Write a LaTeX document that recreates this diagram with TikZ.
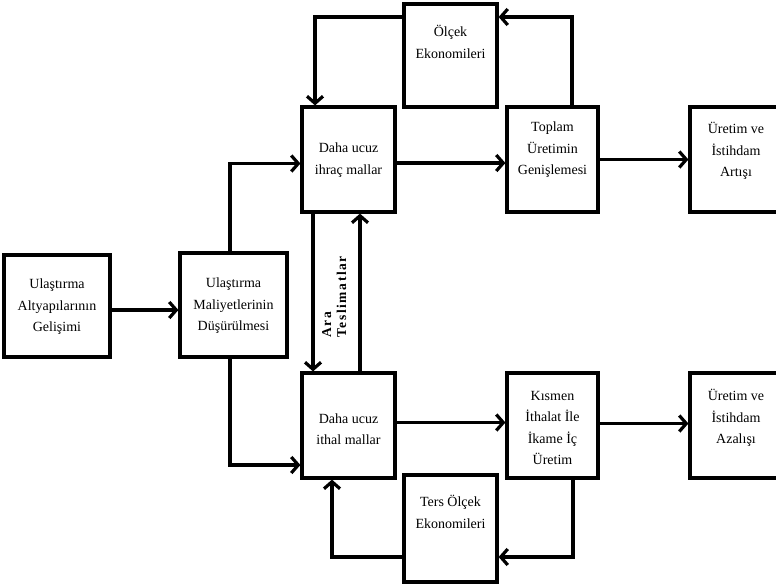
\documentclass[tikz,border=0pt]{standalone}
\usepackage{fontspec}
\setmainfont{Liberation Serif}
\usetikzlibrary{arrows.meta}
\begin{document}
\begin{tikzpicture}[x=1pt,y=-1pt,
  box/.style={draw,line width=3.2pt,inner sep=0pt},
  txt/.style={align=center,font=\fontsize{14}{21.5}\selectfont,inner sep=0pt},
  arr/.style={line width=3.2pt,-{Straight Barb[length=7pt,width=16pt]}},
  lbl/.style={rotate=90,anchor=north west,align=left,inner sep=0pt,font=\bfseries\fontsize{13.5}{15}\selectfont\addfontfeatures{LetterSpace=12}}]
\useasboundingbox (0,0) rectangle (776,587);
% boxes
\node[box,minimum width=106pt,minimum height=102pt] (A) at (57,306) {};
\node[box,minimum width=107pt,minimum height=104pt] (B) at (233.5,305) {};
\node[box,minimum width=93pt,minimum height=105pt] (C) at (348.5,159.5) {};
\node[box,minimum width=93pt,minimum height=103pt] (O) at (450.5,55.5) {};
\node[box,minimum width=91pt,minimum height=105pt] (T) at (552.5,159.5) {};
\node[box,minimum width=92pt,minimum height=105pt] (R1) at (736,159.5) {};
\node[box,minimum width=93pt,minimum height=105pt] (D) at (348.5,425.5) {};
\node[box,minimum width=91pt,minimum height=105pt] (K) at (552.5,425.5) {};
\node[box,minimum width=92pt,minimum height=105pt] (R2) at (736,425.5) {};
\node[box,minimum width=93pt,minimum height=107pt] (Te) at (450.5,528.5) {};
% texts
\node[txt] (tA) at (57,307) {Ulaştırma\\Altyapılarının\\Gelişimi};
\node[txt] (tB) at (233.5,306) {Ulaştırma\\Maliyetlerinin\\Düşürülmesi};
\node[txt] (tC) at (348.5,160) {Daha ucuz\\ihraç mallar};
\node[txt] (tO) at (450.5,42) {Ölçek\\Ekonomileri};
\node[txt] (tT) at (552.5,150) {Toplam\\Üretimin\\Genişlemesi};
\node[txt] (tR1) at (736,151) {Üretim ve\\İstihdam\\Artışı};
\node[txt] (tD) at (348.5,429) {Daha ucuz\\ithal mallar};
\node[txt] (tK) at (552.5,428) {Kısmen\\İthalat İle\\İkame İç\\Üretim};
\node[txt] (tR2) at (736,418) {Üretim ve\\İstihdam\\Azalışı};
\node[txt] (tTe) at (450.5,512) {Ters Ölçek\\Ekonomileri};
\node[lbl] (lab) at (322,338) {Ara\\Teslimatlar};
% connectors
\draw[arr] ([yshift=-4pt]A.east) -- ([yshift=-4pt]A.east -| B.west);
\draw[arr] ([xshift=-3.5pt]B.north) |- ([yshift=-4pt]C.west);
\draw[arr] ([xshift=-3.5pt]B.south) |- ([yshift=-39.5pt]D.west);
\draw[arr] ([yshift=-3.5pt]C.east) -- ([yshift=-3.5pt]T.west);
\draw[arr] (T.east) -- (R1.west);
\draw[arr] ([xshift=19.5pt]T.north) |- ([yshift=38.5pt]O.east);
\draw[arr] ([yshift=38.5pt]O.west) -| ([xshift=-33.5pt]C.north);
\draw[arr] ([xshift=-35.5pt]C.south) -- ([xshift=-35.5pt]D.north);
\draw[arr] ([xshift=11.5pt]D.north) -- ([xshift=11.5pt]C.south);
\draw[arr] ([yshift=3pt]D.east) -- ([yshift=3pt]K.west);
\draw[arr] ([yshift=2pt]K.east) -- ([yshift=2pt]R2.west);
\draw[arr] ([xshift=20.5pt]K.south) |- ([yshift=-28.5pt]Te.east);
\draw[arr] ([yshift=-28.5pt]Te.west) -| ([xshift=-16.5pt]D.south);
\end{tikzpicture}
\end{document}
